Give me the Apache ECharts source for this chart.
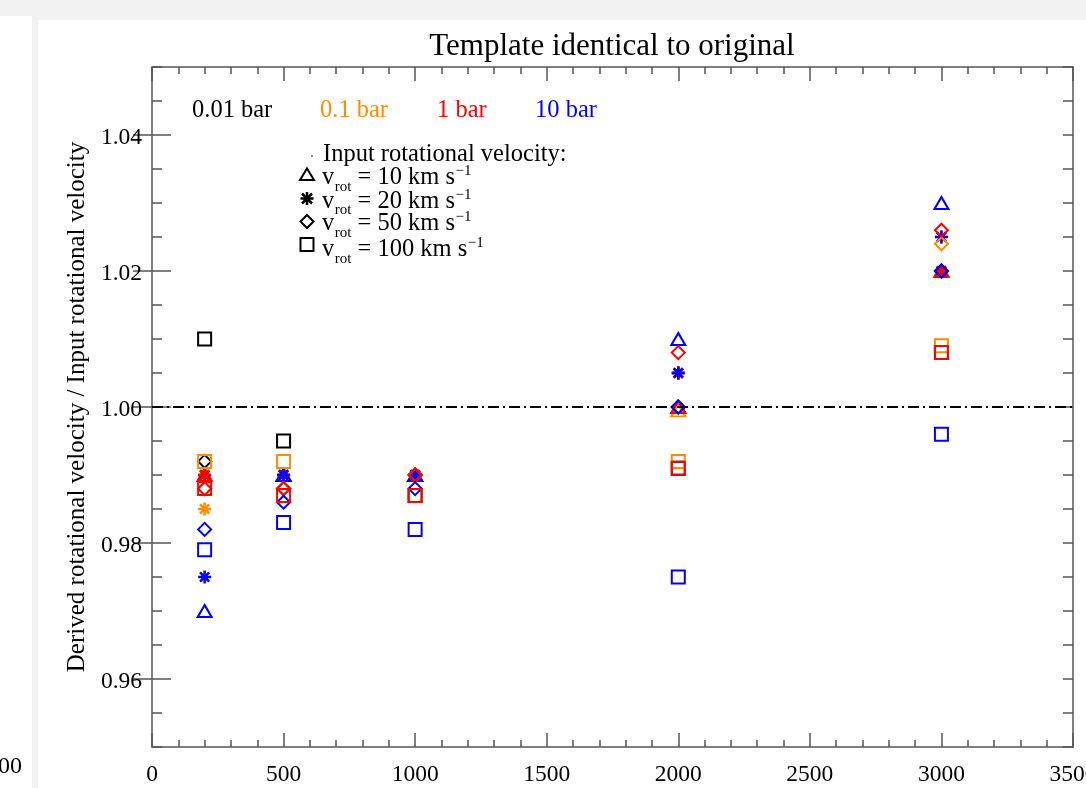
<!DOCTYPE html>
<html>
<head>
<meta charset="utf-8">
<script src="https://cdn.jsdelivr.net/npm/echarts@6/dist/echarts.min.js"></script>
<style>
html,body{margin:0;padding:0;background:#f2f2f2;}
#chart{width:1086px;height:788px;}
</style>
</head>
<body>
<div id="chart"></div>
<script>
// ---------- DATA ----------
const xValues = [200, 500, 1000, 2000, 3000];
const pressureLabels = ['0.01 bar', '0.1 bar', '1 bar', '10 bar'];
const vrotLabels = ['10', '20', '50', '100'];
const xTicks = [0, 500, 1000, 1500, 2000, 2500, 3000, 3500];
const yTicks = [0.96, 0.98, 1.00, 1.02, 1.04];
const referenceLevel = [[0, 1.0], [3500, 1.0]];

// v_rot = 10 km/s (triangles)
const v10_p001 = [0.990, 0.990, 0.990, 1.000, 1.020];
const v10_p01  = [0.990, 0.990, 0.990, 0.9995, 1.020];
const v10_p1   = [0.990, 0.990, 0.990, 1.000, 1.020];
const v10_p10  = [0.970, 0.990, 0.990, 1.010, 1.030];
// v_rot = 20 km/s (asterisks)
const v20_p001 = [0.990, 0.990, 0.990, 1.005, 1.020];
const v20_p01  = [0.985, 0.990, 0.990, 1.005, 1.025];
const v20_p1   = [0.990, 0.990, 0.990, 1.005, 1.020];
const v20_p10  = [0.975, 0.990, 0.990, 1.005, 1.025];
// v_rot = 50 km/s (diamonds)
const v50_p001 = [0.992, 0.988, 0.990, 1.000, 1.020];
const v50_p01  = [0.988, 0.988, 0.990, 1.000, 1.024];
const v50_p1   = [0.988, 0.988, 0.990, 1.008, 1.026];
const v50_p10  = [0.982, 0.986, 0.988, 1.000, 1.020];
// v_rot = 100 km/s (squares)
const v100_p001 = [1.010, 0.995, 0.987, 0.991, 1.008];
const v100_p01  = [0.992, 0.992, 0.987, 0.992, 1.009];
const v100_p1   = [0.988, 0.987, 0.987, 0.991, 1.008];
const v100_p10  = [0.979, 0.983, 0.982, 0.975, 0.996];

// ---------- STYLE ----------
const FONT = '"Liberation Serif", "Times New Roman", serif';
const colors = ['#000000', '#ff8c00', '#ff0000', '#0000ff'];
const ASTERISK = 'path://M0 5L10 5M5 0L5 10M1.5 1.5L8.5 8.5M1.5 8.5L8.5 1.5';
const symbolDefs = [
  {symbol: 'triangle', size: [14, 12], bw: 2},
  {symbol: ASTERISK, size: [13, 13], bw: 2.5},
  {symbol: 'diamond', size: [13, 13], bw: 2},
  {symbol: 'rect', size: [13, 13], bw: 2}
];
const groups = [
  [v10_p001, v10_p01, v10_p1, v10_p10],
  [v20_p001, v20_p01, v20_p1, v20_p10],
  [v50_p001, v50_p01, v50_p1, v50_p10],
  [v100_p001, v100_p01, v100_p1, v100_p10]
];

const series = [{
  type: 'line', data: referenceLevel, symbol: 'none', silent: true,
  lineStyle: {color: '#000', width: 2, type: [11, 4, 2, 4]}
}];
groups.forEach((grp, gi) => {
  grp.forEach((vals, pi) => {
    series.push({
      type: 'scatter',
      name: 'v' + vrotLabels[gi] + ' ' + pressureLabels[pi],
      data: xValues.map((x, i) => [x, vals[i]]),
      symbol: symbolDefs[gi].symbol,
      symbolSize: symbolDefs[gi].size,
      itemStyle: {color: 'rgba(0,0,0,0)', borderColor: colors[pi], borderWidth: symbolDefs[gi].bw, opacity: 1},
      emphasis: {disabled: true}
    });
  });
});

// ---------- LEGEND GRAPHICS ----------
const mctx = document.createElement('canvas').getContext('2d');
function tw(t, s) { mctx.font = s + 'px ' + FONT; return mctx.measureText(t).width; }
function txt(x, y, t, size, color, align) {
  return {type: 'text', x: x, y: y, z: 100,
    style: {text: t, font: size + 'px ' + FONT, fill: color || '#000',
      align: align || 'left', verticalAlign: 'middle', textAlign: align || 'left', textVerticalAlign: 'middle'}};
}
const graphics = [
  {type: 'rect', shape: {x: 38, y: 20, width: 1048, height: 768}, style: {fill: '#ffffff'}, z: -100, silent: true},
  {type: 'rect', shape: {x: 0, y: 16, width: 32, height: 772}, style: {fill: '#ffffff'}, z: -100, silent: true},
  txt(22, 767, '00', 24, '#000', 'right')
];
const pressX = [192, 320, 437, 535];
pressureLabels.forEach((p, i) => graphics.push(txt(pressX[i], 111, p, 24.5, colors[i])));
graphics.push({type: 'circle', shape: {cx: 312, cy: 156, r: 0.8}, style: {fill: '#000'}, z: 100});
graphics.push(txt(323, 154.5, 'Input rotational velocity:', 24.5, '#000'));
const rowY = [178, 201.5, 224, 250];
const symY = [174.5, 198.5, 221.5, 244.5];
const SX = 307;
const ls = {stroke: '#000', lineWidth: 2, fill: 'none'};
// triangle
graphics.push({type: 'polygon', z: 100, shape: {points: [[SX, symY[0] - 6], [SX + 7, symY[0] + 5.5], [SX - 7, symY[0] + 5.5]]}, style: ls});
// asterisk
[[-6.5, 0, 6.5, 0], [0, -6.5, 0, 6.5], [-5, -5, 5, 5], [-5, 5, 5, -5]].forEach(s => {
  graphics.push({type: 'line', z: 100, shape: {x1: SX + s[0], y1: symY[1] + s[1], x2: SX + s[2], y2: symY[1] + s[3]}, style: {stroke: '#000', lineWidth: 2.5}});
});
// diamond
graphics.push({type: 'polygon', z: 100, shape: {points: [[SX, symY[2] - 6.5], [SX + 6.5, symY[2]], [SX, symY[2] + 6.5], [SX - 6.5, symY[2]]]}, style: ls});
// square
graphics.push({type: 'rect', z: 100, shape: {x: SX - 6.5, y: symY[3] - 6.5, width: 13, height: 13}, style: ls});
vrotLabels.forEach((v, i) => {
  const y = rowY[i];
  let x = 322;
  graphics.push(txt(x, y, 'v', 24.5));
  x += tw('v', 24.5) + 0.5;
  graphics.push(txt(x, y + 9, 'rot', 15));
  x += tw('rot', 15);
  const main = ' = ' + v + ' km s';
  graphics.push(txt(x, y, main, 24.5));
  x += tw(main, 24.5) + 0.5;
  graphics.push(txt(x, y - 6.5, '\u22121', 15));
});

// ---------- AXES ----------
const axisLineStyle = {color: '#555', width: 1.5};
const labelStyle = {color: '#000', fontSize: 23.5, fontFamily: FONT};
const xBase = {
  type: 'value', min: 0, max: 3500, interval: 500,
  axisLine: {show: true, lineStyle: axisLineStyle, onZero: false},
  axisTick: {show: true, inside: true, length: 14, lineStyle: axisLineStyle},
  minorTick: {show: true, splitNumber: 5, length: 7, lineStyle: axisLineStyle},
  splitLine: {show: false}, minorSplitLine: {show: false}
};
const yMinor = {
  type: 'value', min: 0.95, max: 1.05, interval: 0.005,
  axisLine: {show: true, lineStyle: axisLineStyle, onZero: false},
  axisTick: {show: true, inside: true, length: 10, lineStyle: axisLineStyle},
  splitLine: {show: false}
};
const yMajor = {
  type: 'value', min: 0.95, max: 1.05, interval: 0.005,
  axisLine: {show: false},
  axisTick: {show: true, inside: true, length: 19, lineStyle: axisLineStyle, customValues: yTicks},
  axisLabel: {show: false},
  splitLine: {show: false}
};

const option = {
  backgroundColor: '#f2f2f2',
  animation: false,
  title: {
    text: 'Template identical to original', left: 612, top: 31, textAlign: 'center', padding: 0,
    textStyle: {fontFamily: FONT, fontSize: 31, fontWeight: 'normal', color: '#000'}
  },
  grid: {left: 152, right: 13, top: 67, bottom: 41, containLabel: false, outerBoundsMode: 'none'},
  xAxis: [
    Object.assign({}, xBase, {position: 'bottom',
      axisLabel: Object.assign({margin: 16, customValues: xTicks, formatter: v => String(v)}, labelStyle)}),
    Object.assign({}, xBase, {position: 'top', axisLabel: {show: false}})
  ],
  yAxis: [
    Object.assign({}, yMinor, {position: 'left',
      name: 'Derived rotational velocity / Input rotational velocity',
      nameLocation: 'middle', nameGap: 62, nameRotate: 90,
      nameTextStyle: {fontFamily: FONT, fontSize: 25, color: '#000'},
      axisLabel: Object.assign({margin: 10, customValues: yTicks,
        formatter: v => '{a|' + v.toFixed(2) + '}',
        rich: {a: {fontSize: 23.5, fontFamily: FONT, color: '#000', padding: [6, 0, 0, 0]}}}, labelStyle)}),
    Object.assign({}, yMajor, {position: 'left'}),
    Object.assign({}, yMinor, {position: 'right', axisLabel: {show: false}}),
    Object.assign({}, yMajor, {position: 'right'})
  ],
  series: series,
  graphic: graphics
};

const chart = echarts.init(document.getElementById('chart'), null, {renderer: 'canvas'});
chart.setOption(option);
</script>
</body>
</html>
